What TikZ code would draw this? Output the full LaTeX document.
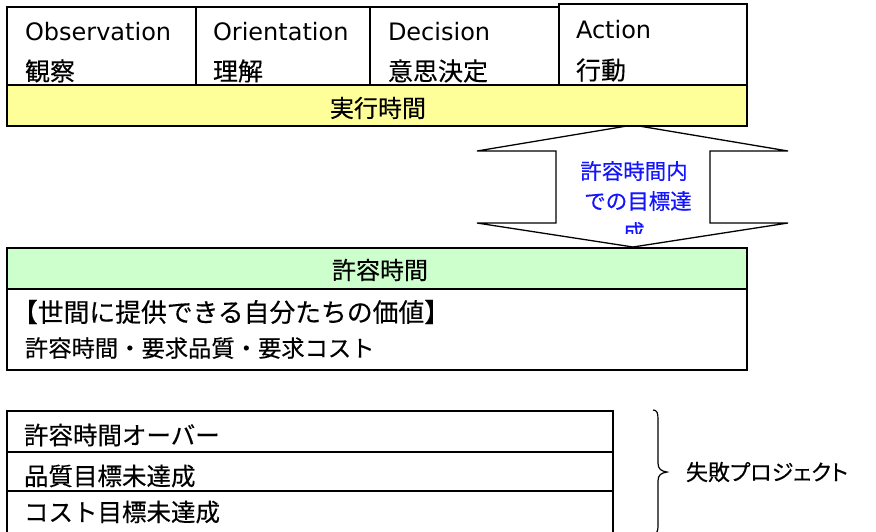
\documentclass[tikz,border=0pt]{standalone}
\usepackage{fontspec}
\setmainfont{Noto Sans CJK JP}
\newfontfamily\jp[FakeBold=0.3]{Noto Sans CJK JP}
\newfontfamily\jpp[RawFeature=+palt,FakeBold=0.3]{Noto Sans CJK JP}
\newfontfamily\lat{DejaVu Sans}
\definecolor{ybar}{RGB}{255,255,153}
\definecolor{gbar}{RGB}{204,255,204}
\definecolor{bluetxt}{RGB}{20,20,255}
\tikzset{
  cell/.style={draw=black, line width=1.3pt, anchor=north west, inner sep=0pt, outer sep=0pt},
  txt/.style={anchor=west, inner sep=0pt, outer sep=0pt},
  ctxt/.style={anchor=center, inner sep=0pt, outer sep=0pt},
  latf/.style={font=\lat\fontsize{24}{28}\selectfont},
  jpf/.style={font=\jp\fontsize{#1}{#1}\selectfont},
}
\begin{document}
\begin{tikzpicture}[x=1pt,y=-1pt]
\useasboundingbox (0,0) rectangle (876,531);
\clip (0,0) rectangle (876,531);
% double arrow
\draw[line width=1.3pt, fill=white, line join=miter]
  (633,125) -- (788,151) -- (710,151) -- (710,223) -- (788,223) -- (633,247)
  -- (477,223) -- (556,223) -- (556,151) -- (477,151) -- cycle;
\begin{scope}
\clip (556,151) rectangle (710,233);
\node[ctxt, jpf=21.5, text=bluetxt] (b1) at (634,171) {許容時間内};
\node[ctxt, jpf=21.5, text=bluetxt] (b2) at (638,201) {での目標達};
\node[ctxt, jpf=21.5, text=bluetxt] (b3) at (634,232) {成};
\end{scope}
% OODA boxes
\node[cell, minimum width=189pt, minimum height=78pt] (obs) at (7,7) {};
\node[cell, minimum width=174pt, minimum height=78pt] (ori) at (196,7) {};
\node[cell, minimum width=189pt, minimum height=78pt] (dec) at (370,7) {};
\node[cell, minimum width=188pt, minimum height=81pt] (act) at (559,4) {};
\node[cell, fill=ybar, minimum width=740pt, minimum height=41pt] (exec) at (7,85) {};
\node[txt, latf] (obsE) at (25,31.5) {Observation};
\node[txt, jpf=25] (obsJ) at (25,71) {観察};
\node[txt, latf] (oriE) at (213,31.5) {Orientation};
\node[txt, jpf=25] (oriJ) at (213,71) {理解};
\node[txt, latf] (decE) at (388,31.5) {Decision};
\node[txt, jpf=25] (decJ) at (388,71) {意思決定};
\node[txt, latf] (actE) at (576,29.5) {Action};
\node[txt, jpf=25] (actJ) at (576,70) {行動};
\node[ctxt, jpf=24] (execT) at (378,108) {実行時間};
% allowed time
\node[cell, fill=gbar, minimum width=740pt, minimum height=41pt] (allow) at (7,248) {};
\node[cell, minimum width=740pt, minimum height=81pt] (value) at (7,289) {};
\node[ctxt, jpf=24] (allowT) at (380,270) {許容時間};
\node[txt, jpf=25.8] (valT) at (12,312) {【世間に提供できる自分たちの価値】};
\node[txt, jpf=23.3] (reqT) at (25,348) {許容時間・要求品質・要求コスト};
% failure boxes
\node[cell, minimum width=606pt, minimum height=41pt] (f1) at (7,411) {};
\node[cell, minimum width=606pt, minimum height=39pt] (f2) at (7,452) {};
\node[cell, minimum width=606pt, minimum height=43pt] (f3) at (7,491) {};
\node[txt, jpf=24.5] (f1T) at (24,435) {許容時間オーバー};
\node[txt, jpf=24.5] (f2T) at (24,476) {品質目標未達成};
\node[txt, jpf=24.5] (f3T) at (24,512) {コスト目標未達成};
% brace
\draw[line width=1.2pt]
  (653,410) .. controls (657,410) and (658,413) .. (658,419) -- (658,463)
  .. controls (658,469) and (661,471) .. (667,472)
  .. controls (661,473) and (658,475) .. (658,481) -- (658,526)
  .. controls (658,531) and (657,534) .. (653,534);
\node[txt, font=\jpp\fontsize{22}{22}\selectfont] (fail) at (686,472) {失敗プロジェクト};
\end{tikzpicture}
\end{document}
